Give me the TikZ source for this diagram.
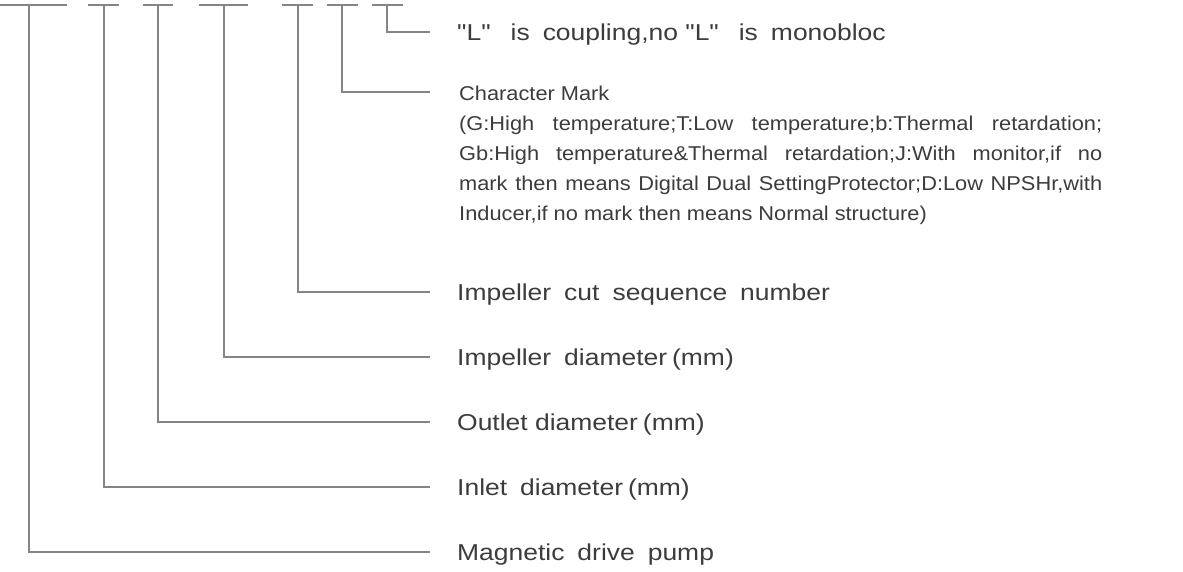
\documentclass[tikz,border=0pt]{standalone}
\usepackage{fontspec}
\setmainfont{Liberation Sans}
\newfontfamily\itemfont{Liberation Sans}[FakeStretch=1.15]
\newfontfamily\notefont{Liberation Sans}[FakeStretch=1.09]
\usetikzlibrary{positioning}
\definecolor{leadgray}{HTML}{858585}
\definecolor{textgray}{HTML}{3C3C3C}
\tikzset{
  lead/.style={draw=leadgray, line width=2.2pt},
  item/.style={text=textgray, font=\itemfont\fontsize{23}{27}\selectfont,
    inner sep=0pt, text height=16.5pt, text depth=0pt, anchor=west},
  note/.style={text=textgray, font=\notefont\fontsize{20}{30}\selectfont,
    inner sep=0pt, text width=643pt, align=justify, anchor=base west},
}
\newcommand{\wsp}{\hspace{13pt}}
\newcommand{\wwsp}{\hspace{20pt}}
\begin{document}
\begin{tikzpicture}[x=1pt,y=-1pt]
        \useasboundingbox (0,0) rectangle (1183,572);
        % top bars of the model code
        \draw[lead] (0,5) -- (67,5);
        \draw[lead] (88,5) -- (119,5);
        \draw[lead] (143,5) -- (173,5);
        \draw[lead] (199,5) -- (248,5);
        \draw[lead] (282,5) -- (313,5);
        \draw[lead] (327,5) -- (358,5);
        \draw[lead] (372,5) -- (403,5);
        % tee points under the bars
        \coordinate (pumpT) at (29,5);
        \coordinate (inletT) at (104,5);
        \coordinate (outletT) at (158,5);
        \coordinate (diamT) at (224,5);
        \coordinate (cutT) at (298,5);
        \coordinate (markT) at (342,5);
        \coordinate (coupT) at (387,5);
        % labels
        \node[item] (coup) at (457,32) {"L"\wwsp is\wsp coupling,no "L"\wwsp is\wsp monobloc};
        \node[note] (mark) at (459,101) {Character Mark\\(G:High temperature;T:Low temperature;b:Thermal retardation;\linebreak
          Gb:High temperature\&Thermal retardation;J:With monitor,if no\linebreak
          mark then means Digital Dual SettingProtector;D:Low NPSHr,with\linebreak
          Inducer,if no mark then means Normal structure)};
        \coordinate (markE) at (430,92);
        \node[item] (cut) at (457,292) {Impeller\wsp cut\wsp sequence\wsp number};
        \node[item] (diam) at (457,357) {Impeller\wsp diameter\hspace{5pt}(mm)};
        \node[item] (outlet) at (457,422) {Outlet diameter\hspace{5pt}(mm)};
        \node[item] (inlet) at (457,487) {Inlet\wsp diameter\hspace{5pt}(mm)};
        \node[item] (pump) at (457,552) {Magnetic\wsp drive\wsp pump};
        % leader lines
        \draw[lead] (coupT) |- ([xshift=-27pt]coup.west);
        \draw[lead] (markT) |- (markE);
        \draw[lead] (cutT) |- ([xshift=-27pt]cut.west);
        \draw[lead] (diamT) |- ([xshift=-27pt]diam.west);
        \draw[lead] (outletT) |- ([xshift=-27pt]outlet.west);
        \draw[lead] (inletT) |- ([xshift=-27pt]inlet.west);
        \draw[lead] (pumpT) |- ([xshift=-27pt]pump.west);
\end{tikzpicture}
\end{document}
